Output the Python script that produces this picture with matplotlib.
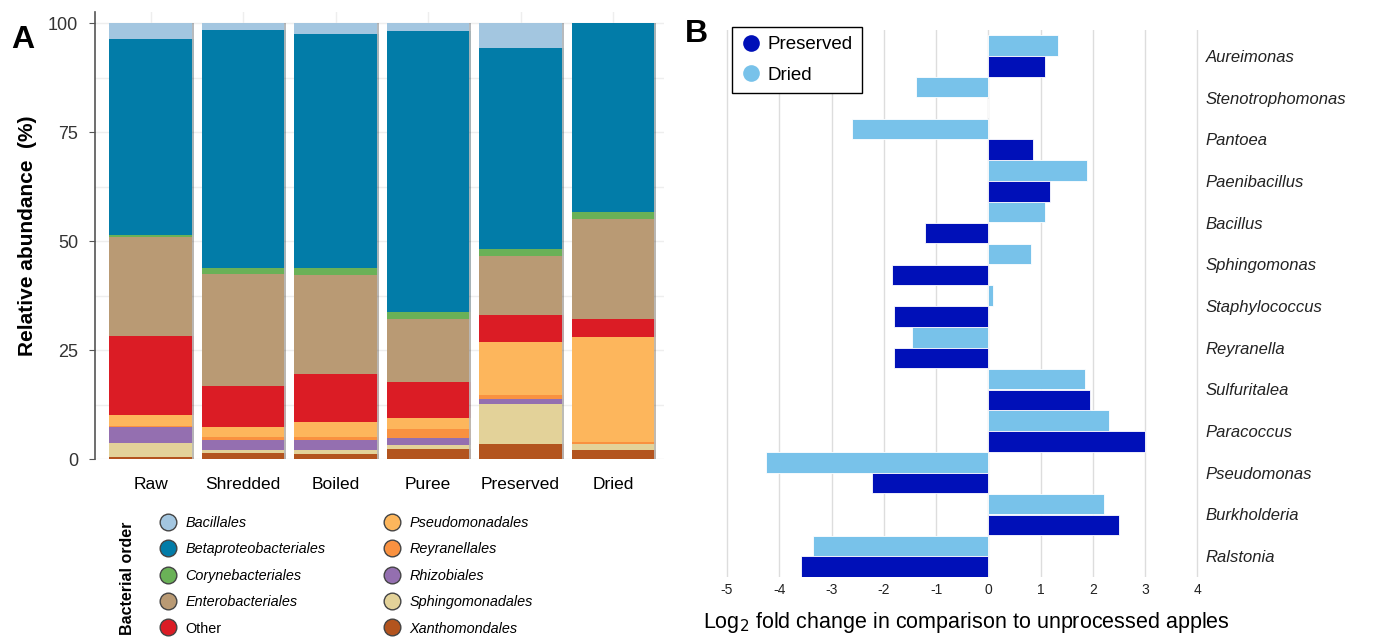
import matplotlib
matplotlib.use("Agg")
import matplotlib.pyplot as plt
import matplotlib.patheffects as pe
from matplotlib.lines import Line2D
import numpy as np

plt.rcParams["font.family"] = ["Liberation Sans", "DejaVu Sans"]
plt.rcParams["axes.unicode_minus"] = False

# Panel A: relative abundance (%) per bacterial order, stacked bottom -> top
samples = ["Raw", "Shredded", "Boiled", "Puree", "Preserved", "Dried"]
orders = ["Xanthomondales", "Sphingomonadales", "Rhizobiales", "Reyranellales",
          "Pseudomonadales", "Other", "Enterobacteriales", "Corynebacteriales",
          "Betaproteobacteriales", "Bacillales"]
xanthomondales = [0.5, 1.3, 1.1, 2.2, 3.4, 2.1]
sphingomonadales = [3.1, 0.8, 1.0, 1.0, 9.2, 1.3]
rhizobiales = [3.8, 2.3, 2.3, 1.7, 1.2, 0.0]
reyranellales = [0.2, 0.7, 0.7, 1.9, 1.0, 0.6]
pseudomonadales = [2.5, 2.3, 3.3, 2.5, 12.0, 24.1]
other = [18.1, 9.4, 11.0, 8.4, 6.2, 4.0]
enterobacteriales = [22.8, 25.6, 22.8, 14.4, 13.7, 22.9]
corynebacteriales = [0.3, 1.5, 1.7, 1.6, 1.4, 1.6]
betaproteobacteriales = [45.0, 54.6, 53.6, 64.5, 46.2, 43.4]
bacillales = [3.7, 1.5, 2.5, 1.8, 5.7, 0.0]

order_colors = {
    "Bacillales": "#a3c6e0",
    "Betaproteobacteriales": "#027ca8",
    "Corynebacteriales": "#6ab157",
    "Enterobacteriales": "#b99a74",
    "Other": "#db1c25",
    "Pseudomonadales": "#fdb65c",
    "Reyranellales": "#f99140",
    "Rhizobiales": "#946fb0",
    "Sphingomonadales": "#e3d299",
    "Xanthomondales": "#b3541e",
}
legend_order = ["Bacillales", "Betaproteobacteriales", "Corynebacteriales",
                "Enterobacteriales", "Other", "Pseudomonadales", "Reyranellales",
                "Rhizobiales", "Sphingomonadales", "Xanthomondales"]

# Panel B: log2 fold change vs unprocessed apples
genera = ["Aureimonas", "Stenotrophomonas", "Pantoea", "Paenibacillus", "Bacillus",
          "Sphingomonas", "Staphylococcus", "Reyranella", "Sulfuritalea",
          "Paracoccus", "Pseudomonas", "Burkholderia", "Ralstonia"]
dried_fc = [1.34, -1.38, -2.6, 1.89, 1.09, 0.82, 0.08, -1.47, 1.85, 2.31, -4.26, 2.22, -3.35]
preserved_fc = [1.09, 0.0, 0.86, 1.17, -1.22, -1.85, -1.8, -1.8, 1.95, 3.0, -2.22, 2.5, -3.58]

fig = plt.figure(figsize=(13.81, 6.4), dpi=100)

# ---------- panel A ----------
axA = fig.add_axes([0.0688, 0.2828, 0.412, 0.6978])
stack = [xanthomondales, sphingomonadales, rhizobiales, reyranellales, pseudomonadales,
         other, enterobacteriales, corynebacteriales, betaproteobacteriales, bacillales]
x = np.arange(len(samples))
bottom = np.zeros(len(samples))
for name, vals in zip(orders, stack):
    vals = np.array(vals)
    bars = axA.bar(x, vals, bottom=bottom, width=0.89, color=order_colors[name],
                   edgecolor="none", zorder=3)
    for b in bars:
        b.set_path_effects([pe.SimplePatchShadow(offset=(1.5, 0), alpha=0.35), pe.Normal()])
    bottom += vals

axA.set_xlim(-0.6, 5.55)
axA.set_ylim(0, 102.5)
axA.set_yticks([0, 25, 50, 75, 100])
axA.set_yticks(np.arange(0, 101, 12.5), minor=True)
axA.set_xticks(x)
axA.set_xticklabels(samples, fontsize=12.5)
axA.tick_params(axis="x", length=0, pad=13)
axA.tick_params(axis="y", which="major", labelsize=13, length=4, color="#555555",
                labelcolor="#333333", pad=8)
axA.tick_params(axis="y", which="minor", length=0)
axA.grid(True, which="both", axis="y", color="#eeeeee", lw=1, zorder=0)
axA.grid(True, axis="x", color="#eeeeee", lw=1, zorder=0)
for s in ["top", "right", "bottom"]:
    axA.spines[s].set_visible(False)
axA.spines["left"].set_color("#555555")
axA.spines["left"].set_linewidth(1.2)
axA.set_ylabel("Relative abundance  (%)", fontsize=15, fontweight="bold", labelpad=8)

handles = [Line2D([], [], ls="none", marker="o", markersize=12,
                  markerfacecolor=order_colors[n], markeredgecolor="#444444",
                  markeredgewidth=1) for n in legend_order]
legA = fig.legend(handles, legend_order, ncol=2, loc="upper left",
                  bbox_to_anchor=(0.111, 0.203), frameon=False, fontsize=10.4,
                  labelspacing=0.86, columnspacing=4.05, handletextpad=0.6,
                  handlelength=1.2, borderaxespad=0)
for t in legA.get_texts():
    if t.get_text() != "Other":
        t.set_style("italic")
fig.text(0.092, 0.097, "Bacterial order", rotation=90, fontsize=11.5,
         fontweight="bold", ha="center", va="center")

fig.text(0.008, 0.925, "A", fontsize=23, fontweight="bold")
fig.text(0.496, 0.935, "B", fontsize=23, fontweight="bold")

# ---------- panel B ----------
axB = fig.add_axes([0.517, 0.0984, 0.352, 0.8547])
y = np.arange(len(genera))
h = 0.49
axB.barh(y - 0.25, dried_fc, height=h, color="#78c2ea", edgecolor="white",
         lw=0.6, zorder=3, label="Dried")
axB.barh(y + 0.25, preserved_fc, height=h, color="#0010b8", edgecolor="white",
         lw=0.6, zorder=3, label="Preserved")
axB.set_xlim(-5.25, 4.05)
axB.set_ylim(12.5, -0.62)
axB.set_xticks(np.arange(-5, 5))
axB.tick_params(axis="x", length=0, labelsize=10, pad=4, labelcolor="#222222")
axB.grid(True, axis="x", color="#dddddd", lw=1, zorder=0)
axB.yaxis.tick_right()
axB.set_yticks(y)
axB.set_yticklabels(genera, fontsize=12, style="italic", color="#222222")
axB.tick_params(axis="y", length=0, pad=4)
for s in axB.spines.values():
    s.set_visible(False)
axB.set_xlabel("Log$_2$ fold change in comparison to unprocessed apples",
               fontsize=15.5, labelpad=10, x=0.52)

legB_handles = [Line2D([], [], ls="none", marker="o", markersize=12,
                       markerfacecolor="#0010b8", markeredgecolor="none"),
                Line2D([], [], ls="none", marker="o", markersize=12,
                       markerfacecolor="#78c2ea", markeredgecolor="none")]
legB = axB.legend(legB_handles, ["Preserved", "Dried"], loc="upper left",
                  bbox_to_anchor=(0.530, 0.958), bbox_transform=fig.transFigure,
                  fontsize=13.5, fancybox=False, framealpha=1, edgecolor="black",
                  handletextpad=0.4, handlelength=1.0, borderpad=0.5,
                  labelspacing=0.7, borderaxespad=0)
legB.get_frame().set_linewidth(1)

fig.savefig("out.png", dpi=100)
